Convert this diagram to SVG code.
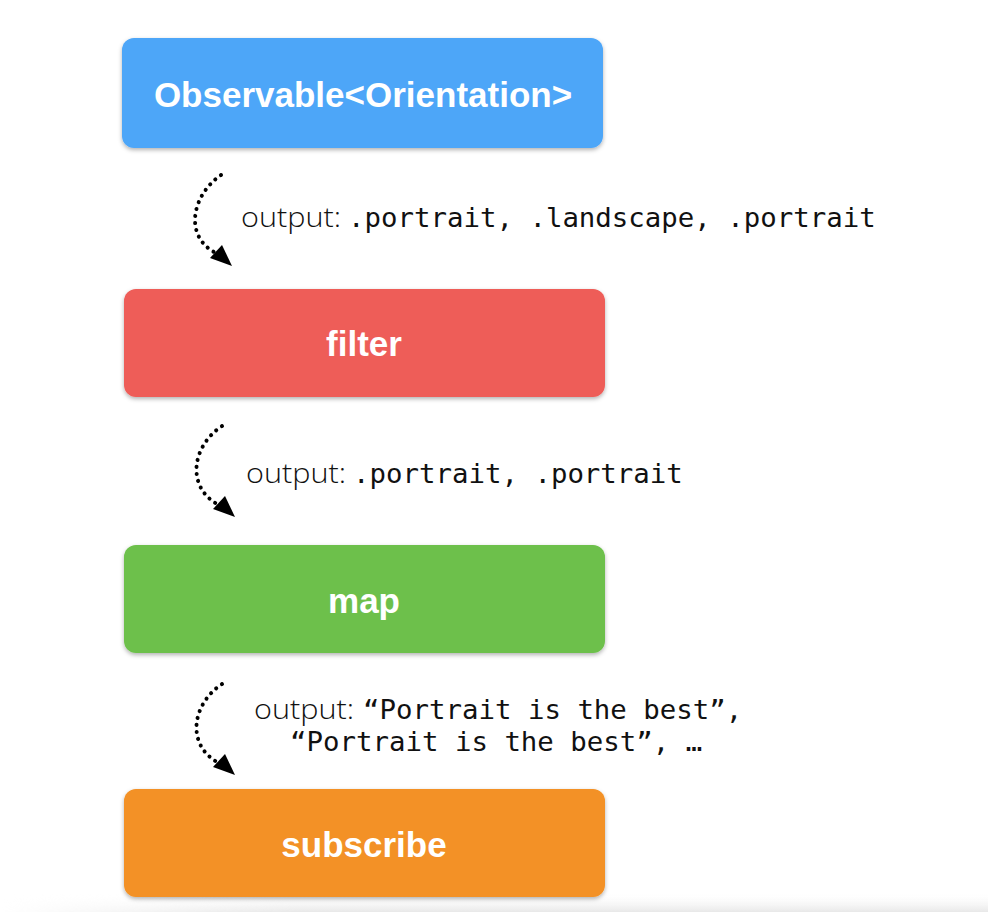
<svg xmlns="http://www.w3.org/2000/svg" width="988" height="912" viewBox="0 0 988 912">
<defs>
<filter id="sh" x="-5%" y="-10%" width="110%" height="125%">
<feDropShadow dx="0" dy="2" stdDeviation="2" flood-color="#000" flood-opacity="0.3"/>
</filter>
<linearGradient id="bg" x1="0" y1="0" x2="0" y2="1">
<stop offset="0" stop-color="#fff" stop-opacity="0"/>
<stop offset="1" stop-color="#e8e8e8"/>
</linearGradient>
<linearGradient id="bgm" x1="0" y1="0" x2="1" y2="0">
<stop offset="0" stop-color="#fff" stop-opacity="0"/>
<stop offset="0.3" stop-color="#fff" stop-opacity="1"/>
</linearGradient>
<mask id="m"><rect x="0" y="880" width="988" height="32" fill="url(#bgm)"/></mask>
</defs>
<style>
.box{filter:url(#sh)}
.t{font-family:"Liberation Sans",Arial,sans-serif;font-weight:bold;font-size:35px;fill:#fff;text-anchor:middle}
.lbl{font-family:"Open Sans","Liberation Sans",sans-serif;font-weight:300;font-size:28px;fill:#111}
.code{font-family:"DejaVu Sans Mono",monospace;font-size:27.4px;fill:#111}
.arr{fill:none;stroke:#000;stroke-width:4;stroke-dasharray:0.1 7;stroke-linecap:round}
</style>
<rect x="0" y="0" width="988" height="912" fill="#fff"/>
<rect x="0" y="892" width="988" height="20" fill="url(#bg)" mask="url(#m)"/>
<g id="connectors">
<path class="arr" d="M221,175 C192,195 184,235 214,252"/>
<path d="M210,258 L232,266 L222,245 z" fill="#000"/>
<path class="arr" d="M222,426 C192,446 186,486 217,504"/>
<path d="M213,509 L235,517 L225,496 z" fill="#000"/>
<path class="arr" d="M222,684 C192,704 186,744 217,762"/>
<path d="M213,767 L235,775 L225,754 z" fill="#000"/>
</g>
<g id="n1">
<rect class="box" x="122" y="38" width="481" height="110" rx="12" fill="#4EA6F8"/>
<text class="t" x="363" y="107">Observable&lt;Orientation&gt;</text>
</g>
<g id="l1">
<text x="241" y="227"><tspan class="lbl" textLength="100" lengthAdjust="spacingAndGlyphs">output:</tspan><tspan class="code" x="348">.portrait, .landscape, .portrait</tspan></text>
</g>
<g id="n2">
<rect class="box" x="124" y="289" width="481" height="108" rx="12" fill="#EE5D58"/>
<text class="t" x="364" y="356">filter</text>
</g>
<g id="l2">
<text x="246" y="483"><tspan class="lbl" textLength="100" lengthAdjust="spacingAndGlyphs">output:</tspan><tspan class="code" x="353">.portrait, .portrait</tspan></text>
</g>
<g id="n3">
<rect class="box" x="124" y="545" width="481" height="108" rx="12" fill="#6DC04B"/>
<text class="t" x="364" y="613">map</text>
</g>
<g id="l3">
<text x="254" y="719"><tspan class="lbl" textLength="100" lengthAdjust="spacingAndGlyphs">output:</tspan><tspan class="code" x="363">“Portrait is the best”,</tspan></text>
<text class="code" x="290" y="751">“Portrait is the best”, …</text>
</g>
<g id="n4">
<rect class="box" x="124" y="789" width="481" height="108" rx="12" fill="#F39125"/>
<text class="t" x="364" y="857">subscribe</text>
</g>
</svg>
